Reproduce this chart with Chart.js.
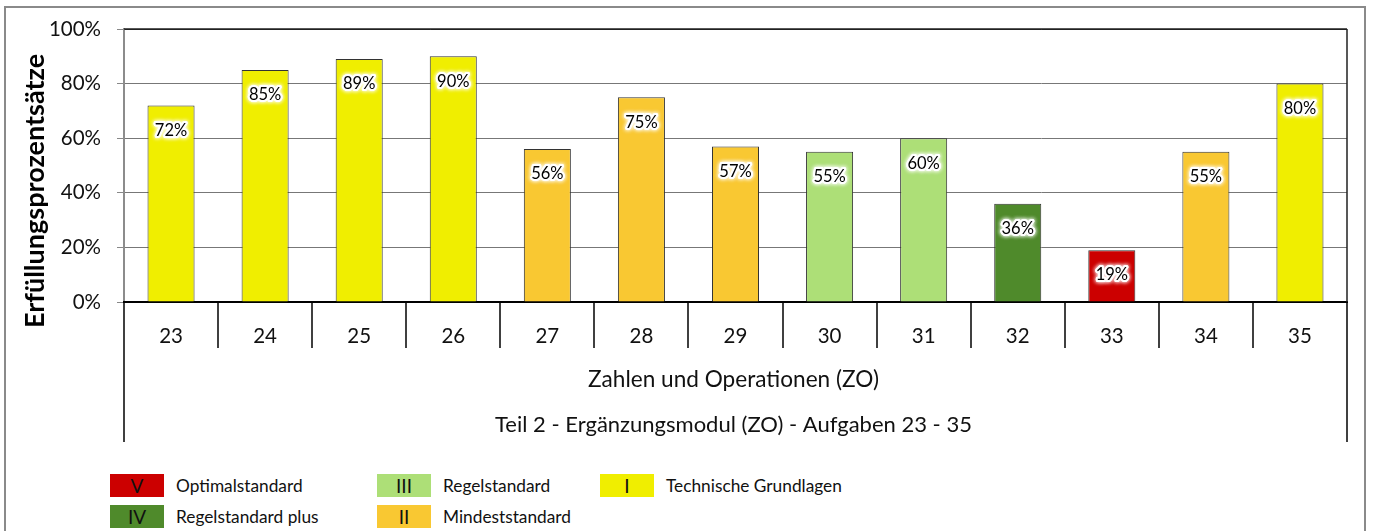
<!DOCTYPE html>
<html>
<head>
<meta charset="utf-8">
<script src="https://cdn.jsdelivr.net/npm/chart.js@4.4.1/dist/chart.umd.min.js"></script>
<style>
  html,body{margin:0;padding:0;background:#fff;}
  body{width:1374px;height:531px;overflow:hidden;position:relative;font-family:Lato,"Open Sans",sans-serif;}
  #frame{position:absolute;left:4px;top:6px;width:1362px;height:600px;border:2px solid #8a8a8a;box-sizing:border-box;}
  #wrap{position:absolute;left:0;top:0;width:1374px;height:460px;}
  .box{position:absolute;width:54px;height:23px;text-align:center;line-height:23px;font-size:19px;color:#111;}
  .txt{position:absolute;font-size:17.3px;line-height:23px;color:#111;}
</style>
</head>
<body>
<div id="frame"></div>
<div id="wrap"><canvas id="c" width="1374" height="460"></canvas></div>
<div id="legend"></div>
<script>
const categories = ["23","24","25","26","27","28","29","30","31","32","33","34","35"];
const values = [72, 85, 89, 90, 56, 75, 57, 55, 60, 36, 19, 55, 80];
const levels = ["I","I","I","I","II","II","II","III","III","IV","V","II","I"];
const yTicks = [0, 20, 40, 60, 80, 100];
const levelColors = {"V":"#cc0000","IV":"#4f8a2b","III":"#addf77","II":"#f9c832","I":"#f0ee00"};
const legendItems = [
  {lvl:"V", text:"Optimalstandard"},
  {lvl:"IV", text:"Regelstandard plus"},
  {lvl:"III", text:"Regelstandard"},
  {lvl:"II", text:"Mindeststandard"},
  {lvl:"I", text:"Technische Grundlagen"}
];
const axisTitle = "Erfüllungsprozentsätze";
const groupLabel = "Zahlen und Operationen (ZO)";
const partLabel = "Teil 2 - Ergänzungsmodul (ZO) - Aufgaben 23 - 35";

// legend (HTML)
const legendPos = [[110,474],[110,505],[377,474],[377,505],[600,474]];
const lg = document.getElementById('legend');
legendItems.forEach((it,i)=>{
  const [x,y] = legendPos[i];
  const b = document.createElement('div');
  b.className='box'; b.style.left=x+'px'; b.style.top=y+'px';
  b.style.background=levelColors[it.lvl]; b.textContent=it.lvl;
  lg.appendChild(b);
  const t = document.createElement('div');
  t.className='txt'; t.style.left=(x+66)+'px'; t.style.top=y+'px';
  t.textContent=it.text;
  lg.appendChild(t);
});

const FONT = 'Lato';

const customDraw = {
  id:'customDraw',
  afterDraw(chart){
    const ctx = chart.ctx;
    const ca = chart.chartArea;
    const xs = chart.scales.x;
    const n = categories.length;
    const w = (ca.right - ca.left)/n;
    ctx.save();
    // plot frame top & right
    ctx.strokeStyle = '#222';
    ctx.lineWidth = 1.5;
    ctx.beginPath();
    ctx.moveTo(ca.left, ca.top); ctx.lineTo(ca.right, ca.top);
    ctx.moveTo(ca.right, ca.top); ctx.lineTo(ca.right, ca.bottom);
    ctx.stroke();
    // category dividers
    ctx.strokeStyle = '#000';
    ctx.lineWidth = 1.5;
    for(let i=0;i<=n;i++){
      const x = Math.round(xs.getPixelForValue(0) - w/2 + i*w) ;
      const yEnd = (i===0 || i===n) ? 442 : 348;
      ctx.beginPath(); ctx.moveTo(x, ca.bottom); ctx.lineTo(x, yEnd); ctx.stroke();
    }
    // group labels
    ctx.fillStyle = '#111';
    ctx.textAlign = 'center'; ctx.textBaseline = 'middle';
    const cx = (ca.left+ca.right)/2 - 2;
    ctx.font = '22.6px ' + FONT;
    ctx.fillText(groupLabel, cx, 380);
    ctx.font = '22px ' + FONT;
    ctx.fillText(partLabel, cx, 425);
    // y title
    ctx.save();
    ctx.translate(35, 191);
    ctx.rotate(-Math.PI/2);
    ctx.font = 'bold 27px ' + FONT;
    ctx.fillStyle = '#000';
    ctx.fillText(axisTitle, 0, 0);
    ctx.restore();
    // bar value labels with white halo
    const meta = chart.getDatasetMeta(0);
    ctx.font = '16.5px ' + FONT;
    meta.data.forEach((bar, i)=>{
      const txt = values[i] + '%';
      const y = bar.y + 25;
      ctx.save();
      ctx.shadowColor = 'rgba(255,255,255,1)';
      ctx.shadowBlur = 4;
      ctx.strokeStyle = 'rgba(255,255,255,0.95)';
      ctx.lineWidth = 4; ctx.lineJoin = 'round';
      ctx.strokeText(txt, bar.x, y);
      ctx.strokeText(txt, bar.x, y);
      ctx.restore();
      ctx.fillStyle = '#000';
      ctx.fillText(txt, bar.x, y);
    });
    ctx.restore();
  }
};

new Chart(document.getElementById('c'), {
  type:'bar',
  data:{
    labels: categories,
    datasets:[{
      data: values,
      backgroundColor: levels.map(l=>levelColors[l]),
      borderColor: '#333',
      borderWidth: 1,
      borderSkipped: 'bottom',
      barPercentage: 0.5,
      categoryPercentage: 1.0
    }]
  },
  options:{
    responsive:false,
    animation:false,
    devicePixelRatio:1,
    layout:{padding:{top:29,right:27,left:0,bottom:0}},
    plugins:{legend:{display:false},tooltip:{enabled:false}},
    scales:{
      y:{
        min:0,max:100,
        afterFit(s){ s.width = 124; },
        afterBuildTicks(s){ s.ticks = yTicks.map(v=>({value:v})); },
        ticks:{
          callback:(v)=>v+'%',
          font:{family:FONT,size:20.5},
          color:'#111',
          padding:16
        },
        grid:{
          color:(c)=> c.tick && c.tick.value===100 ? '#222' : '#777',
          lineWidth:1,
          drawTicks:true,
          tickLength:7,
          tickColor:'#888'
        },
        border:{color:'#8c8c8c',width:2}
      },
      x:{
        afterFit(s){ s.height = 158; },
        ticks:{
          font:{family:FONT,size:20.5},
          color:'#111',
          padding:22,
          maxRotation:0,
          autoSkip:false
        },
        grid:{display:true,drawOnChartArea:false,drawTicks:false},
        border:{color:'#000',width:2}
      }
    }
  },
  plugins:[customDraw]
});
</script>
</body>
</html>
